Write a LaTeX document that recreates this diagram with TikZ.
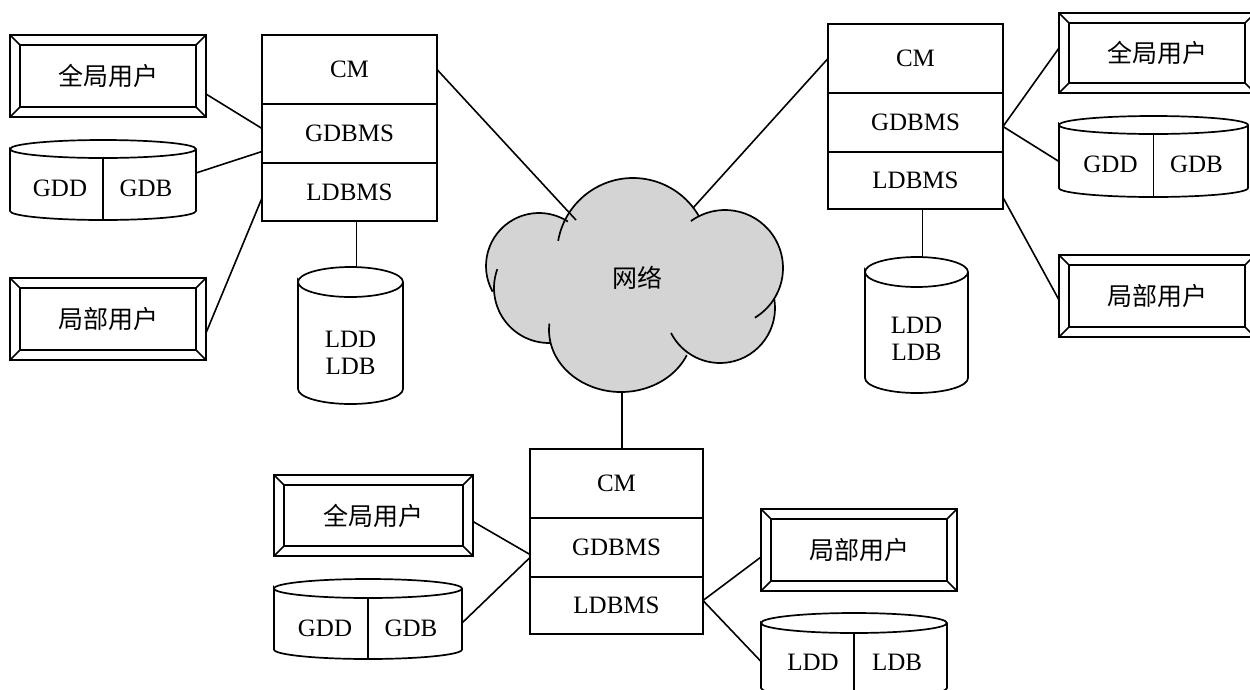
\documentclass[tikz,border=0pt]{standalone}
\usepackage{fontspec}
\setmainfont{Liberation Serif}
\newfontfamily\cjk{Noto Sans CJK SC}
\usepackage{tikz}
\usetikzlibrary{positioning,calc}
\definecolor{cloudgray}{HTML}{D4D4D4}
\tikzstyle{seg}=[draw, line width=1.7pt, minimum width=175pt, inner sep=0pt, outer sep=0pt]
\tikzstyle{link}=[line width=1.6pt]
\tikzstyle{drum}=[inner sep=0pt, outer sep=0pt]
\tikzstyle{puff}=[line width=1.7pt]
\tikzstyle{userbox}=[draw, line width=1.7pt, minimum width=196pt, minimum height=82pt, inner sep=0pt, outer sep=0pt,
  font=\cjk\fontsize{25}{27}\selectfont,
  path picture={
    \draw[line width=1.5pt] ([shift={(10pt,10pt)}]path picture bounding box.south west) rectangle ([shift={(-10pt,-10pt)}]path picture bounding box.north east);
    \draw[line width=1.5pt] (path picture bounding box.south west) -- ++(10pt,10pt)
      (path picture bounding box.north west) -- ++(10pt,-10pt)
      (path picture bounding box.north east) -- ++(-10pt,-10pt)
      (path picture bounding box.south east) -- ++(-10pt,10pt);
  }]
% drum outline: node, half width, half height of ellipse
\newcommand{\dbdrum}[3]{%
  \draw[line width=1.7pt] ([yshift=-#3]#1.north west) arc[start angle=180, end angle=-180, x radius=#2, y radius=#3]
    -- ([yshift=#3]#1.south west) arc[start angle=180, end angle=360, x radius=#2, y radius=#3]
    -- ([yshift=-#3]#1.north east);}

\begin{document}
\begin{tikzpicture}[x=1pt, y=-1pt, font=\fontsize{25}{27}\selectfont]
  \useasboundingbox (0,0) rectangle (1250,689);
  \clip (0,0) rectangle (1250,689);

  % network cloud
  \fill[cloudgray] (633,254) circle[radius=76] (539,266) circle[radius=53] (549,288) circle[radius=55]
    (621,330) ellipse[x radius=72, y radius=62] (720,308) circle[radius=55] (725,268) circle[radius=58];
  \draw[puff] (633,254) ++(190:76) arc[start angle=190, end angle=330, radius=76];
  \draw[puff] (725,268) ++(-126:58) arc[start angle=-126, end angle=59, radius=58];
  \draw[puff] (720,308) ++(-10:55) arc[start angle=-10, end angle=153, radius=55];
  \draw[puff] (621,330) ++(24:72 and 62) arc[start angle=24, end angle=186, x radius=72, y radius=62];
  \draw[puff] (549,288) ++(88:55) arc[start angle=88, end angle=200, radius=55];
  \draw[puff] (539,266) ++(151:53) arc[start angle=151, end angle=303, radius=53];
  \node(net) at (637,278) {\cjk 网络};
  \coordinate(netl) at (576,220);
  \coordinate(netr) at (693,208);
  \coordinate(netb) at (622,392);

  % left site
  \node(lcm) [seg, minimum height=69pt] at (349.5,69.5) {CM};
  \node(lgdbms) [seg, minimum height=59pt, below=0pt of lcm] {GDBMS};
  \node(lldbms) [seg, minimum height=58pt, below=0pt of lgdbms] {LDBMS};
  \node(lgu) [userbox] at (108,76) {全局用户};
  \node(llu) [userbox] at (108,319) {局部用户};
  \node(lgdd) [drum, minimum width=186pt, minimum height=80pt] at (103,180) {};
  \dbdrum{lgdd}{93pt}{9pt}
  \draw[puff] (lgdd.north) ++(0pt,-18pt) -- (lgdd.south);
  \node(lgddt) at ([xshift=-43pt, yshift=-8pt]lgdd.center) {GDD};
  \node(lgdbt) at ([xshift=43pt, yshift=-8pt]lgdd.center) {GDB};
  \node(lldd) [drum, minimum width=105pt, minimum height=137pt] at (350.5,335.5) {};
  \dbdrum{lldd}{52.5pt}{15pt}
  \node(llddt) [align=center] at ([yshift=-17pt]lldd.center) {LDD\\LDB};

  % right site
  \node(rcm) [seg, minimum height=69pt] at (915.5,58.5) {CM};
  \node(rgdbms) [seg, minimum height=59pt, below=0pt of rcm] {GDBMS};
  \node(rldbms) [seg, minimum height=57pt, below=0pt of rgdbms] {LDBMS};
  \node(rgu) [userbox, minimum height=80pt] at (1157,53) {全局用户};
  \node(rlu) [userbox] at (1157,296) {局部用户};
  \node(rgdd) [drum, minimum width=189pt, minimum height=81pt] at (1153.5,156.5) {};
  \dbdrum{rgdd}{94.5pt}{9pt}
  \draw[puff] (rgdd.north) ++(0pt,-18pt) -- (rgdd.south);
  \node(rgddt) at ([xshift=-43pt, yshift=-8pt]rgdd.center) {GDD};
  \node(rgdbt) at ([xshift=43pt, yshift=-8pt]rgdd.center) {GDB};
  \node(rldd) [drum, minimum width=103pt, minimum height=136pt] at (916.5,325) {};
  \dbdrum{rldd}{51.5pt}{15pt}
  \node(rlddt) [align=center] at ([yshift=-13.5pt]rldd.center) {LDD\\LDB};

  % bottom site
  \node(bcm) [seg, minimum width=173pt, minimum height=69pt] at (616.5,483.5) {CM};
  \node(bgdbms) [seg, minimum width=173pt, minimum height=59pt, below=0pt of bcm] {GDBMS};
  \node(bldbms) [seg, minimum width=173pt, minimum height=57pt, below=0pt of bgdbms] {LDBMS};
  \node(bgu) [userbox, minimum width=199pt, minimum height=81pt] at (373.5,515.5) {全局用户};
  \node(blu) [userbox] at (859,550) {局部用户};
  \node(bgdd) [drum, minimum width=188pt, minimum height=80pt] at (368,619) {};
  \dbdrum{bgdd}{94pt}{9.5pt}
  \draw[puff] (bgdd.north) ++(0pt,-19pt) -- (bgdd.south);
  \node(bgddt) at ([xshift=-43pt, yshift=-9pt]bgdd.center) {GDD};
  \node(bgdbt) at ([xshift=43pt, yshift=-9pt]bgdd.center) {GDB};
  \node(bldd) [drum, minimum width=186pt, minimum height=85pt] at (854,655.5) {};
  \dbdrum{bldd}{93pt}{10pt}
  \draw[puff] (bldd.north) ++(0pt,-20pt) -- (bldd.south);
  \node(blddt) at ([xshift=-41pt, yshift=-6.5pt]bldd.center) {LDD};
  \node(bldbt) at ([xshift=43pt, yshift=-6.5pt]bldd.center) {LDB};

  % connectors
  \draw[link] (lcm.east) -- (netl);
  \draw[link] (rcm.west) -- (netr);
  \draw[link] (netb) -- (netb |- bcm.north);
  \draw[link] ([yshift=-18pt]lgu.east) -- ([yshift=5pt]lgdbms.west);
  \draw[link] ([yshift=7pt]lgdd.east) -- ([yshift=-18pt]lgdbms.west);
  \draw[link] ([yshift=-14pt]llu.east) -- ([yshift=-6pt]lldbms.west);
  \draw[link] ([xshift=7pt]lldbms.south) -- ([xshift=7pt]lldbms.south |- lldd.north);
  \draw[link] ([yshift=-4pt]rgdbms.east) -- ([yshift=5pt]rgu.west);
  \draw[link] ([yshift=-4pt]rgdbms.east) -- ([yshift=-5pt]rgdd.west);
  \draw[link] ([yshift=-17pt]rldbms.east) -- ([yshift=-4pt]rlu.west);
  \draw[link] ([xshift=7pt]rldbms.south) -- ([xshift=7pt]rldbms.south |- rldd.north);
  \draw[link] ([yshift=-6pt]bgu.east) -- ([yshift=-7pt]bgdbms.west);
  \draw[link] ([yshift=-4pt]bgdd.east) -- ([yshift=-10pt]bgdbms.west);
  \draw[link] ([yshift=5pt]bldbms.east) -- ([yshift=-7pt]blu.west);
  \draw[link] ([yshift=5pt]bldbms.east) -- ([yshift=-6pt]bldd.west);
\end{tikzpicture}
\end{document}
